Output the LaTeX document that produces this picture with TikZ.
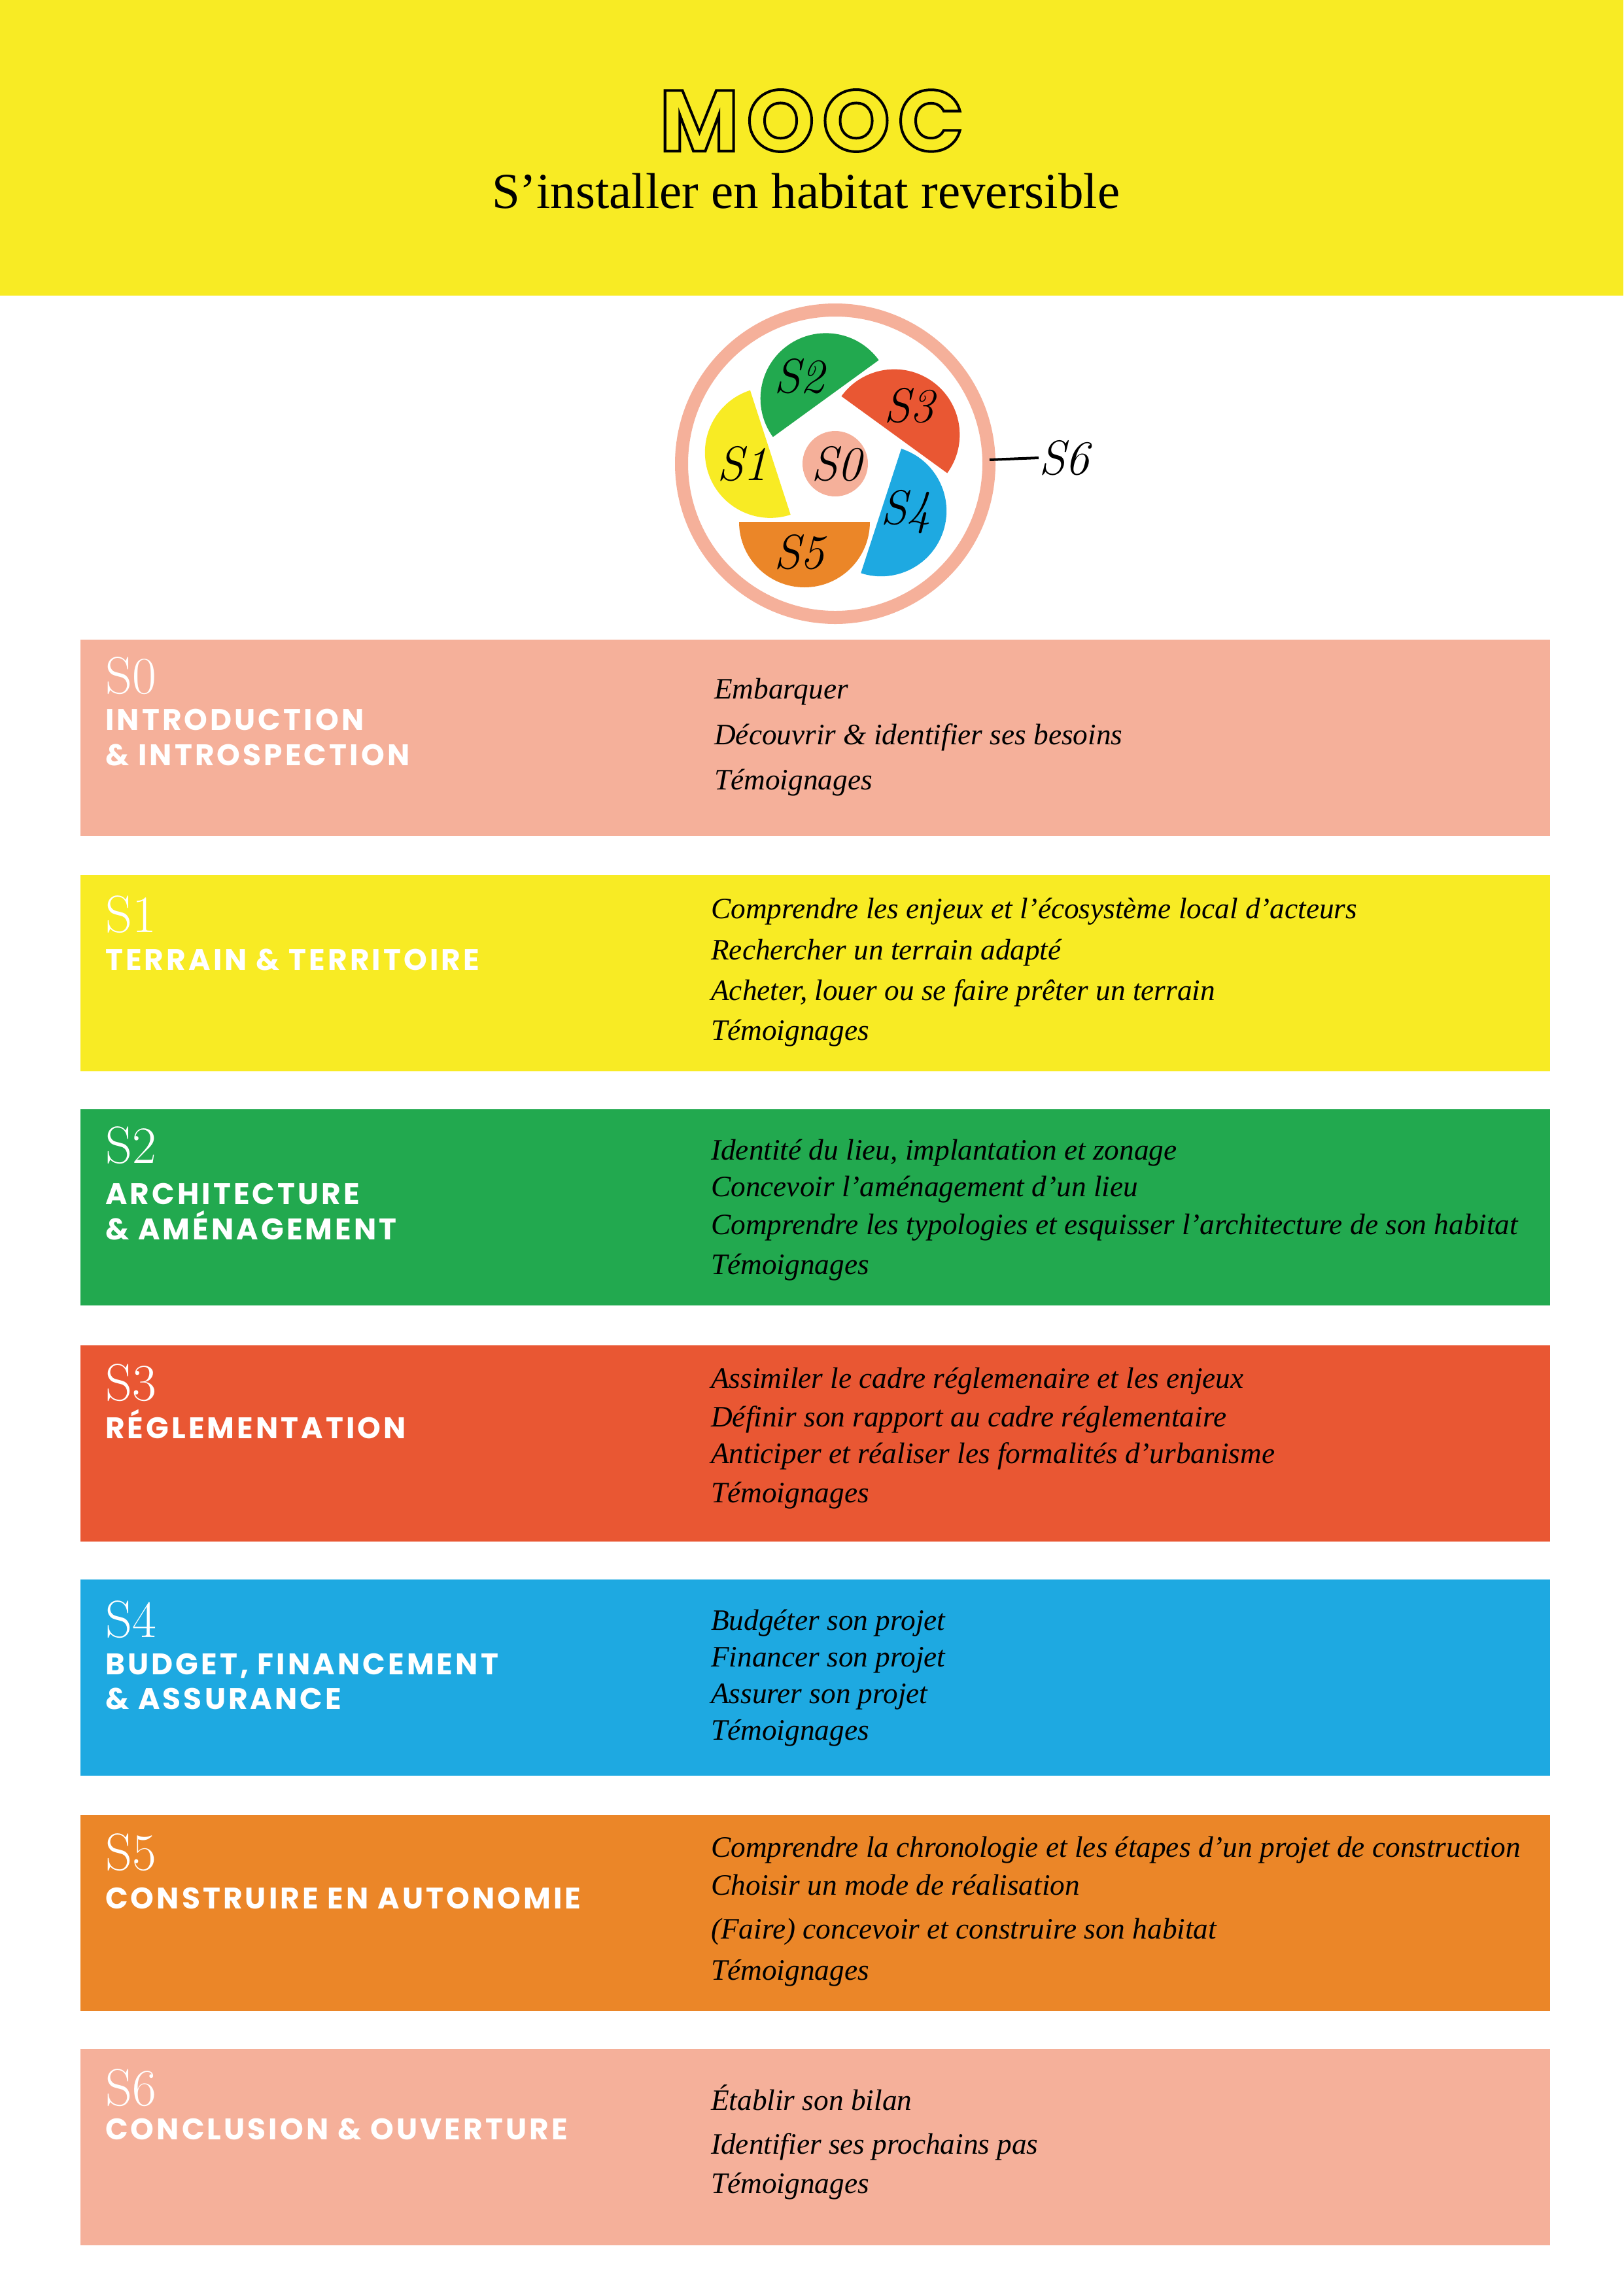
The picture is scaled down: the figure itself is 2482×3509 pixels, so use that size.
\documentclass[tikz,border=0pt]{standalone}
\usepackage{fontspec}
\usetikzlibrary{calc}
\setmainfont{Liberation Serif}
\newfontfamily\headf[LetterSpace=9]{Poppins}
\newfontfamily\titlef[LetterSpace=9]{Poppins}
\newfontfamily\lmf{Latin Modern Roman}
\definecolor{salmon}{HTML}{F5B09A}
\definecolor{yel}{HTML}{F8EB24}
\definecolor{grn}{HTML}{22A94F}
\definecolor{red}{HTML}{E95733}
\definecolor{blu}{HTML}{1EA9E1}
\definecolor{org}{HTML}{EB8628}
\tikzset{
 bigs/.style={anchor=base west,text=white,font=\fontsize{80}{80}\selectfont\lmf,inner sep=0},
 head/.style={anchor=base west,text=white,font=\fontsize{45.5}{45}\selectfont\headf\bfseries,inner sep=0},
 item/.style={anchor=base west,font=\fontsize{45.3}{45}\selectfont\itshape,inner sep=0},
 plab/.style={font=\fontsize{74}{74}\selectfont\itshape\lmf,inner sep=0},
}
\begin{document}
\begin{tikzpicture}[x=1pt,y=1pt]
\useasboundingbox (0,0) rectangle (2482,-3509);
\fill[white] (0,0) rectangle (2482,-3509);
\fill[yel] (0,0) rectangle (2482,-452);
\node[font=\fontsize{132}{132}\selectfont\titlef\bfseries,inner sep=0,anchor=base] (title) at (1241,-231)
  {\special{pdf:literal direct 1 Tr 4 w}MOOC\special{pdf:literal direct 0 Tr}};
\node[font=\fontsize{77}{77}\selectfont,inner sep=0,anchor=base] (sub) at (1232,-318) {S’installer en habitat reversible};
% circle diagram
\coordinate (C) at (1277,-709);
\draw[salmon,line width=20] (C) circle[radius=235];
\foreach \k/\c in {0/org,1/blu,2/red,3/grn,4/yel}{
  \begin{scope}[rotate around={72*\k:(C)}]
   \fill[\c] ($(C)+(-147,-89)$) arc[start angle=180,end angle=360,radius=100] -- cycle;
  \end{scope}}
\fill[salmon] (C) circle[radius=50];
\node[plab] (c0) at (1279,-709) {S0};
\node[plab] (c1) at (1135,-709) {S1};
\node[plab] (c2) at (1222,-575) {S2};
\node[plab] (c3) at (1390,-620) {S3};
\node[plab] (c4) at (1385,-783) {S4};
\node[plab] (c5) at (1222,-844) {S5};
\node[plab,anchor=west] (c6) at (1588,-700) {S6};
\coordinate (d1) at (1513,-703);
\draw[line width=4] (d1) -- (c6.west);
% rows
\foreach \t/\c in {978/salmon,1338/yel,1696/grn,2057/red,2415/blu,2775/org,3133/salmon}
  \fill[\c] (123,-\t) rectangle (2370,-\t-300);
\node[bigs] (s0) at (161,-1060) {S0};
\node[head] (h0) at (161,-1116) {INTRODUCTION};
\node[head] (h0b) at (161,-1170) {\& INTROSPECTION};
\node[item] at (1092,-1068) {Embarquer};
\node[item] at (1092,-1138) {Découvrir \& identifier ses besoins};
\node[item] at (1092,-1207) {Témoignages};

\node[bigs] (s1) at (161,-1425) {S1};
\node[head] (h1) at (161,-1483) {TERRAIN \& TERRITOIRE};
\node[item] at (1087,-1404) {Comprendre les enjeux et l’écosystème local d’acteurs};
\node[item] at (1087,-1467) {Rechercher un terrain adapté};
\node[item] at (1087,-1529) {Acheter, louer ou se faire prêter un terrain};
\node[item] at (1087,-1590) {Témoignages};

\node[bigs] (s2) at (161,-1778) {S2};
\node[head] (h2) at (161,-1841) {ARCHITECTURE};
\node[head] (h2b) at (161,-1895) {\& AMÉNAGEMENT};
\node[item] at (1087,-1773) {Identité du lieu, implantation et zonage};
\node[item] at (1087,-1829) {Concevoir l’aménagement d’un lieu};
\node[item] at (1087,-1887) {Comprendre les typologies et esquisser l’architecture de son habitat};
\node[item] at (1087,-1948) {Témoignages};

\node[bigs] (s3) at (161,-2141) {S3};
\node[head] (h3) at (161,-2199) {RÉGLEMENTATION};
\node[item] at (1087,-2122) {Assimiler le cadre réglemenaire et les enjeux};
\node[item] at (1087,-2181) {Définir son rapport au cadre réglementaire};
\node[item] at (1087,-2237) {Anticiper et réaliser les formalités d’urbanisme};
\node[item] at (1087,-2297) {Témoignages};

\node[bigs] (s4) at (161,-2503) {S4};
\node[head] (h4) at (161,-2560) {BUDGET, FINANCEMENT};
\node[head] (h4b) at (161,-2613) {\& ASSURANCE};
\node[item] at (1087,-2492) {Budgéter son projet};
\node[item] at (1087,-2548) {Financer son projet};
\node[item] at (1087,-2604) {Assurer son projet};
\node[item] at (1087,-2660) {Témoignages};

\node[bigs] (s5) at (161,-2859) {S5};
\node[head] (h5) at (161,-2918) {CONSTRUIRE EN AUTONOMIE};
\node[item] at (1087,-2839) {Comprendre la chronologie et les étapes d’un projet de construction};
\node[item] at (1087,-2897) {Choisir un mode de réalisation};
\node[item] at (1087,-2964) {(Faire) concevoir et construire son habitat};
\node[item] at (1087,-3027) {Témoignages};

\node[bigs] (s6) at (161,-3219) {S6};
\node[head] (h6) at (161,-3271) {CONCLUSION \& OUVERTURE};
\node[item] at (1087,-3226) {Établir son bilan};
\node[item] at (1087,-3293) {Identifier ses prochains pas};
\node[item] at (1087,-3353) {Témoignages};
\end{tikzpicture}
\end{document}
